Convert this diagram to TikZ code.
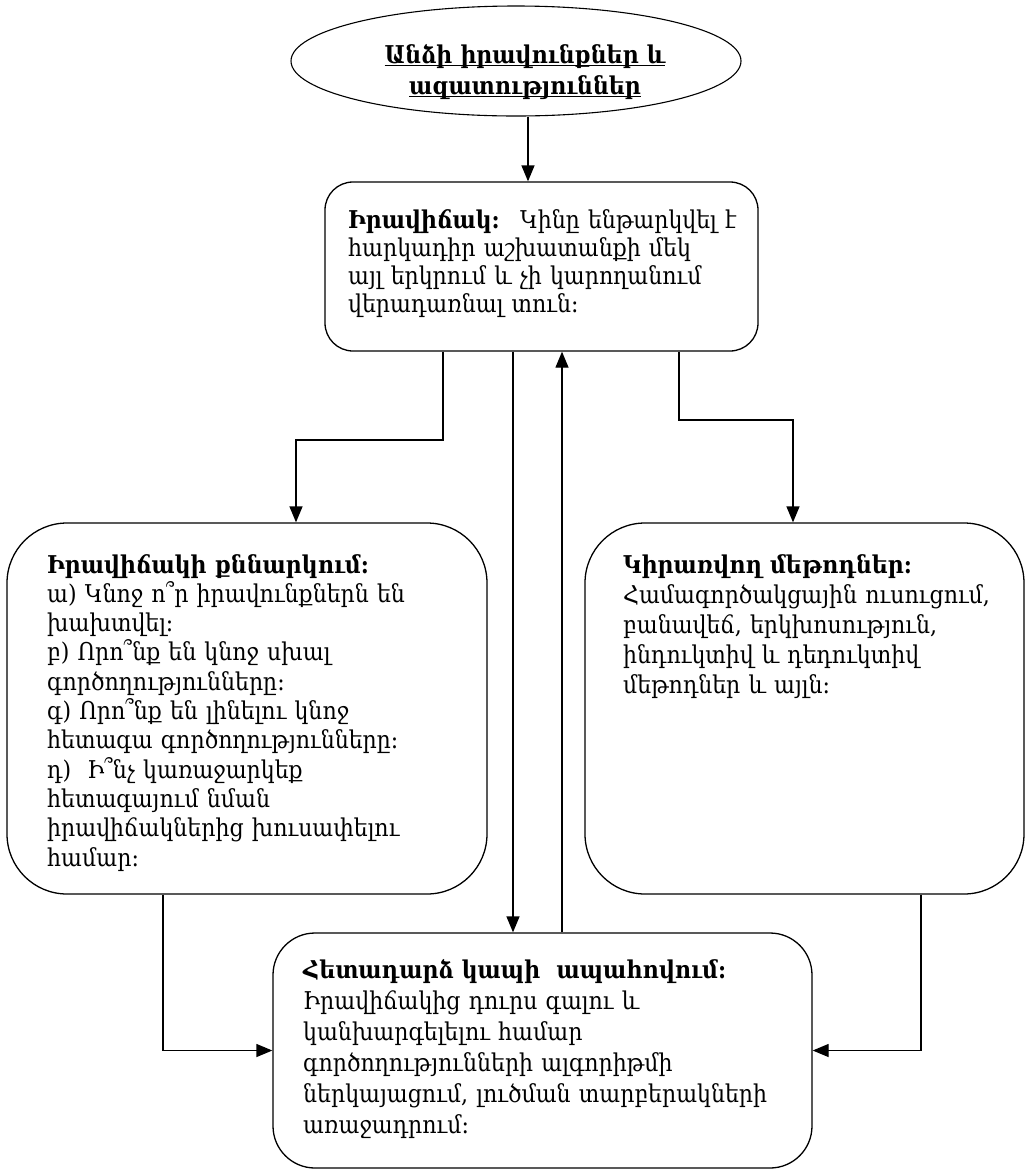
\documentclass[tikz,border=0pt]{standalone}
\usepackage{fontspec}
\setmainfont{DejaVu Serif Condensed}
\usetikzlibrary{arrows.meta,shapes.geometric,calc}
\newlength\tw
\newcommand\fsz[1]{\fontsize{\fs pt}{#1pt}\selectfont}
\newcommand\myul[1]{\setbox0\hbox{#1}\leavevmode\rlap{\vrule width\wd0 height -1.8pt depth 3.0pt}\box0}
\tikzset{
  box/.style={draw, line width=1.3pt, inner sep=0pt, rectangle},
  txt/.style={anchor=base west, align=left, inner sep=0pt, text width=#1},
  arr/.style={line width=1.3pt, -{Triangle[length=16pt,width=13pt]}},
  ln/.style={line width=1.3pt},
}
\begin{document}
\settowidth\tw{\rmfamily\fontsize{20pt}{20pt}\selectfont հետագա գործողությունները:}%
\pgfmathsetmacro\fs{20*350/\tw}%
\begin{tikzpicture}[x=1pt,y=-1pt]
\useasboundingbox[fill=white] (0,0) rectangle (1028,1171);

% shapes
\node[draw, ellipse, line width=1.1pt, minimum width=450pt, minimum height=110pt, inner sep=0pt] (ell) at (516,61) {};
\node[box, rounded corners=28pt, minimum width=433pt, minimum height=169pt] (sit) at (541.5,266.5) {};
\node[box, rounded corners=60pt, minimum width=480pt, minimum height=371pt] (lft) at (247,708.5) {};
\node[box, rounded corners=60pt, minimum width=439pt, minimum height=371pt] (rgt) at (804.5,708.5) {};
\node[box, rounded corners=42pt, minimum width=539pt, minimum height=235pt] (bot) at (542.5,1050.5) {};

% texts
\node[anchor=base, align=center, inner sep=0pt, text width=420pt, font=\fsz{31}\bfseries] (ttl) at (525,63)
  {\myul{Անձի իրավունքներ և}\\ \myul{ազատություններ}};
\node[txt=420pt, font=\fsz{28.3}] (sittxt) at (348,228)
  {\textbf{Իրավիճակ:}~ Կինը ենթարկվել է\\
   հարկադիր աշխատանքի մեկ\\
   այլ երկրում և չի կարողանում\\
   վերադառնալ տուն:};
\node[txt=440pt, font=\fsz{29.3}] (lfttxt) at (47,573)
  {\textbf{Իրավիճակի քննարկում:}\\
   ա) Կնոջ ո՞ր իրավունքներն են\\
   խախտվել:\\
   բ) Որո՞նք են կնոջ սխալ\\
   գործողությունները:\\
   գ) Որո՞նք են լինելու կնոջ\\
   հետագա գործողությունները:\\
   դ)~ Ի՞նչ կառաջարկեք\\
   հետագայում նման\\
   իրավիճակներից խուսափելու\\
   համար:};
\node[txt=390pt, font=\fsz{30}] (rgttxt) at (623,573)
  {\textbf{Կիրառվող մեթոդներ:}\\
   Համագործակցային ուսուցում,\\
   բանավեճ, երկխոսություն,\\
   ինդուկտիվ և դեդուկտիվ\\
   մեթոդներ և այլն:};
\node[txt=500pt, font=\fsz{31}] (bottxt) at (303,978)
  {\textbf{Հետադարձ կապի~ ապահովում:}\\
   Իրավիճակից դուրս գալու և\\
   կանխարգելելու համար\\
   գործողությունների ալգորիթմի\\
   ներկայացում, լուծման տարբերակների\\
   առաջադրում:};

% connectors
\draw[arr] (ell.south -| 528,0) -- (sit.north -| 528,0);
\draw[arr] (sit.south -| 443,0) -- (443,440) -| (lft.north -| 296,0);
\draw[arr] (sit.south -| 679,0) -- (679,420) -| (rgt.north -| 793,0);
\draw[arr] (sit.south -| 513,0) -- (bot.north -| 513,0);
\draw[arr] (bot.north -| 562,0) -- (sit.south -| 562,0);
\draw[arr] (lft.south -| 163,0) |- (bot.west);
\draw[arr] (rgt.south -| 921,0) |- (bot.east);
\end{tikzpicture}
\end{document}
